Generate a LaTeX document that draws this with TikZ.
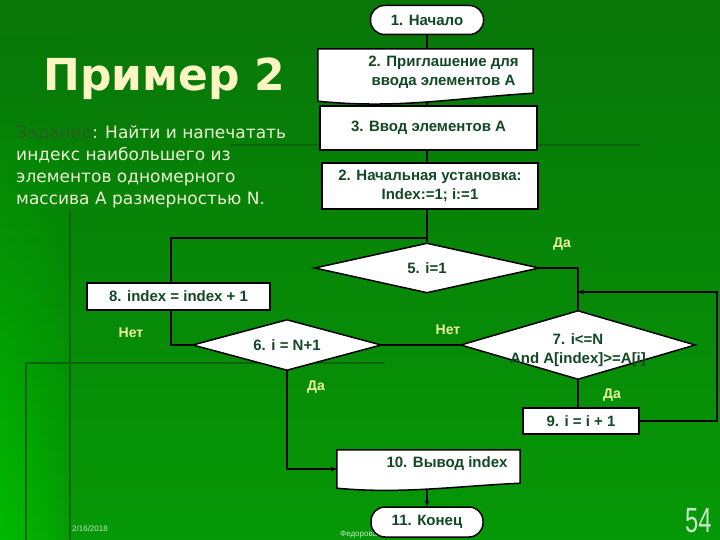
\documentclass[tikz,border=0pt]{standalone}
\usepackage{fontspec}
\setmainfont{Liberation Sans}
\newfontfamily\dejavu{DejaVu Sans}
\usetikzlibrary{shapes.geometric,arrows.meta}
\pgfdeclarelayer{bg}
\pgfdeclarelayer{lines}
\pgfsetlayers{bg,lines,main}
\definecolor{bgtop}{RGB}{8,118,8}
\definecolor{bgbot}{RGB}{6,152,6}
\definecolor{glow}{RGB}{0,215,0}
\definecolor{bgline}{RGB}{12,100,12}
\definecolor{txtdark}{RGB}{18,72,38}
\definecolor{lblc}{RGB}{235,242,160}
\definecolor{titlec}{RGB}{250,245,195}
\definecolor{taskc}{RGB}{238,242,215}
\definecolor{zadc}{RGB}{35,95,30}
\definecolor{footc}{RGB}{200,228,200}
\begin{document}
\begin{tikzpicture}[x=1pt,y=-1pt,
  nodetext/.style={font=\fontsize{15}{19}\selectfont\bfseries, text=txtdark, align=center, inner sep=0pt},
  box/.style={nodetext, draw=black, line width=1.5pt, fill=white, rectangle},
  term/.style={box, rounded corners=14pt},
  dec/.style={draw=black, line width=1.5pt, fill=white, diamond, inner sep=0pt},
  docnode/.style={rectangle, inner sep=0pt},
  docshape/.style={draw=black, line width=1.5pt, fill=white},
  conn/.style={draw=black, line width=1.6pt},
  tip/.style={-{Stealth[length=6pt,width=5pt]}},
  lab/.style={font=\fontsize{14}{16}\selectfont\bfseries, text=lblc, inner sep=0pt},
  tasktext/.style={font=\dejavu\fontsize{17}{22}\selectfont, text=taskc, anchor=base west, inner sep=0pt},
  foot/.style={font=\fontsize{8}{9}\selectfont, text=footc, anchor=base west, inner sep=0pt}
]
\useasboundingbox (0,0) rectangle (720,540);

% background
\begin{pgfonlayer}{bg}
  \shade[top color=bgtop, bottom color=bgbot] (0,0) rectangle (720,540);
  \foreach \w in {8,16,...,72} {
    \shade[opacity=0.09, top color=bgtop, bottom color=glow] (0,0) rectangle (\w,540);
  }
  \draw[bgline, line width=2.5pt] (70,210) -- (70,540);
  \draw[bgline, line width=2.5pt] (26,363) -- (385,363);
  \draw[bgline, line width=2.5pt] (26,363) -- (26,540);
  \draw[bgline, line width=2.5pt] (230,145) -- (640,145);
\end{pgfonlayer}

% title and task
\node[font=\dejavu\bfseries\fontsize{44}{48}\selectfont, text=titlec, anchor=base west, inner sep=0pt] (title) at (43,91) {Пример 2};
\node[tasktext] (t1) at (16,139) {{\color{zadc}Задание}: Найти и напечатать};
\node[tasktext] (t2) at (16,161) {индекс наибольшего из};
\node[tasktext] (t3) at (16,183) {элементов одномерного};
\node[tasktext] (t4) at (16,205) {массива А размерностью N.};

% nodes
\node[term, minimum width=113, minimum height=29] (n1) at (427,20) {1. Начало};
\node[docnode, minimum width=215, minimum height=52,
  label={[nodetext, xshift=18pt, yshift=2.5pt]center:{2. Приглашение для\\ввода элементов А}}] (n2) at (425.5,75) {};
\node[box, minimum width=217, minimum height=44] (n3) at (428.5,128) {3. Ввод элементов А};
\node[box, line width=2.6pt, minimum width=216, minimum height=46] (n4) at (430,186) {2. Начальная установка:\\Index:=1; i:=1};
\node[dec, minimum width=225, minimum height=50, label={[nodetext]center:5. i=1}] (n5) at (427,268) {};
\node[dec, minimum width=189, minimum height=51, label={[nodetext]center:6. i = N+1}] (n6) at (287,345) {};
\node[dec, minimum width=235, minimum height=69,
  label={[nodetext, yshift=-5.5pt]center:{7. i<=N\\And A[index]>=A[i]}}] (n7) at (578,345) {};
\node[box, minimum width=183, minimum height=27] (n8) at (178.5,296.5) {8. index = index + 1};
\node[box, minimum width=116, minimum height=26] (n9) at (581,421) {9. i = i + 1};
\node[docnode, minimum width=183, minimum height=38,
  label={[nodetext, xshift=18.5pt, yshift=5pt]center:{10. Вывод index}}] (n10) at (428.5,469) {};
\node[foot] (f2) at (340,536) {Федорова Т.Г. Программирование};
\node[term, minimum width=112, minimum height=30] (n11) at (427,522) {11. Конец};

% labels
\node[lab] (l1) at (562,244) {Да};
\node[lab] (l2) at (448,330) {Нет};
\node[lab] (l3) at (612,395) {Да};
\node[lab] (l4) at (316,387) {Да};
\node[lab] (l5) at (131,333) {Нет};

% footer
\node[foot] (f1) at (72,531) {2/16/2018};
\node[font=\fontsize{35}{35}\selectfont, text=footc, anchor=base west, inner sep=0pt] (pg) at (685,532) {\scalebox{0.68}[1]{54}};

% connectors
\begin{pgfonlayer}{lines}
  \coordinate (c1) at (171,238);
  \coordinate (c2) at (171,345);
  \coordinate (c3) at (717,421);
  \coordinate (c4) at (717,292);
  \draw[conn] (n1.south) -- (n1.south |- n2.north);
  \draw[conn] (n1.south |- n2.south) -- (n1.south |- n3.north);
  \draw[conn] (n1.south |- n3.south) -- (n1.south |- n4.north);
  \draw[conn] (n1.south |- n4.south) -- (n5.north);
  \draw[conn] (n5.north |- c1) -- (c1) -- (c2) -- (n6.west);
  \draw[conn] (n5.east) -| (n7.north);
  \draw[conn] (n6.east) -- (n7.west);
  \draw[conn] (n7.south) -- (n7.south |- n9.north);
  \draw[conn, tip] (n9.east) -- (c3) -- (c4) -- (n7.north |- c4);
  \draw[conn, tip] (n6.south) |- (n10.west);
  \draw[conn, tip] (n10.south -| n11.north) -- (n11.north);
  % document shapes
  \filldraw[docshape] (n2.north west) -- (n2.north east) -- ([yshift=8pt]n2.south east)
     .. controls ([xshift=-80pt,yshift=3pt]n2.south east) and ([xshift=80pt,yshift=-8pt]n2.south west) .. (n2.south west) -- cycle;
  \filldraw[docshape] (n10.north west) -- (n10.north east) -- ([yshift=5pt]n10.south east)
     .. controls ([xshift=-65pt,yshift=2pt]n10.south east) and ([xshift=65pt,yshift=-6pt]n10.south west) .. (n10.south west) -- cycle;
\end{pgfonlayer}
\end{tikzpicture}
\end{document}
